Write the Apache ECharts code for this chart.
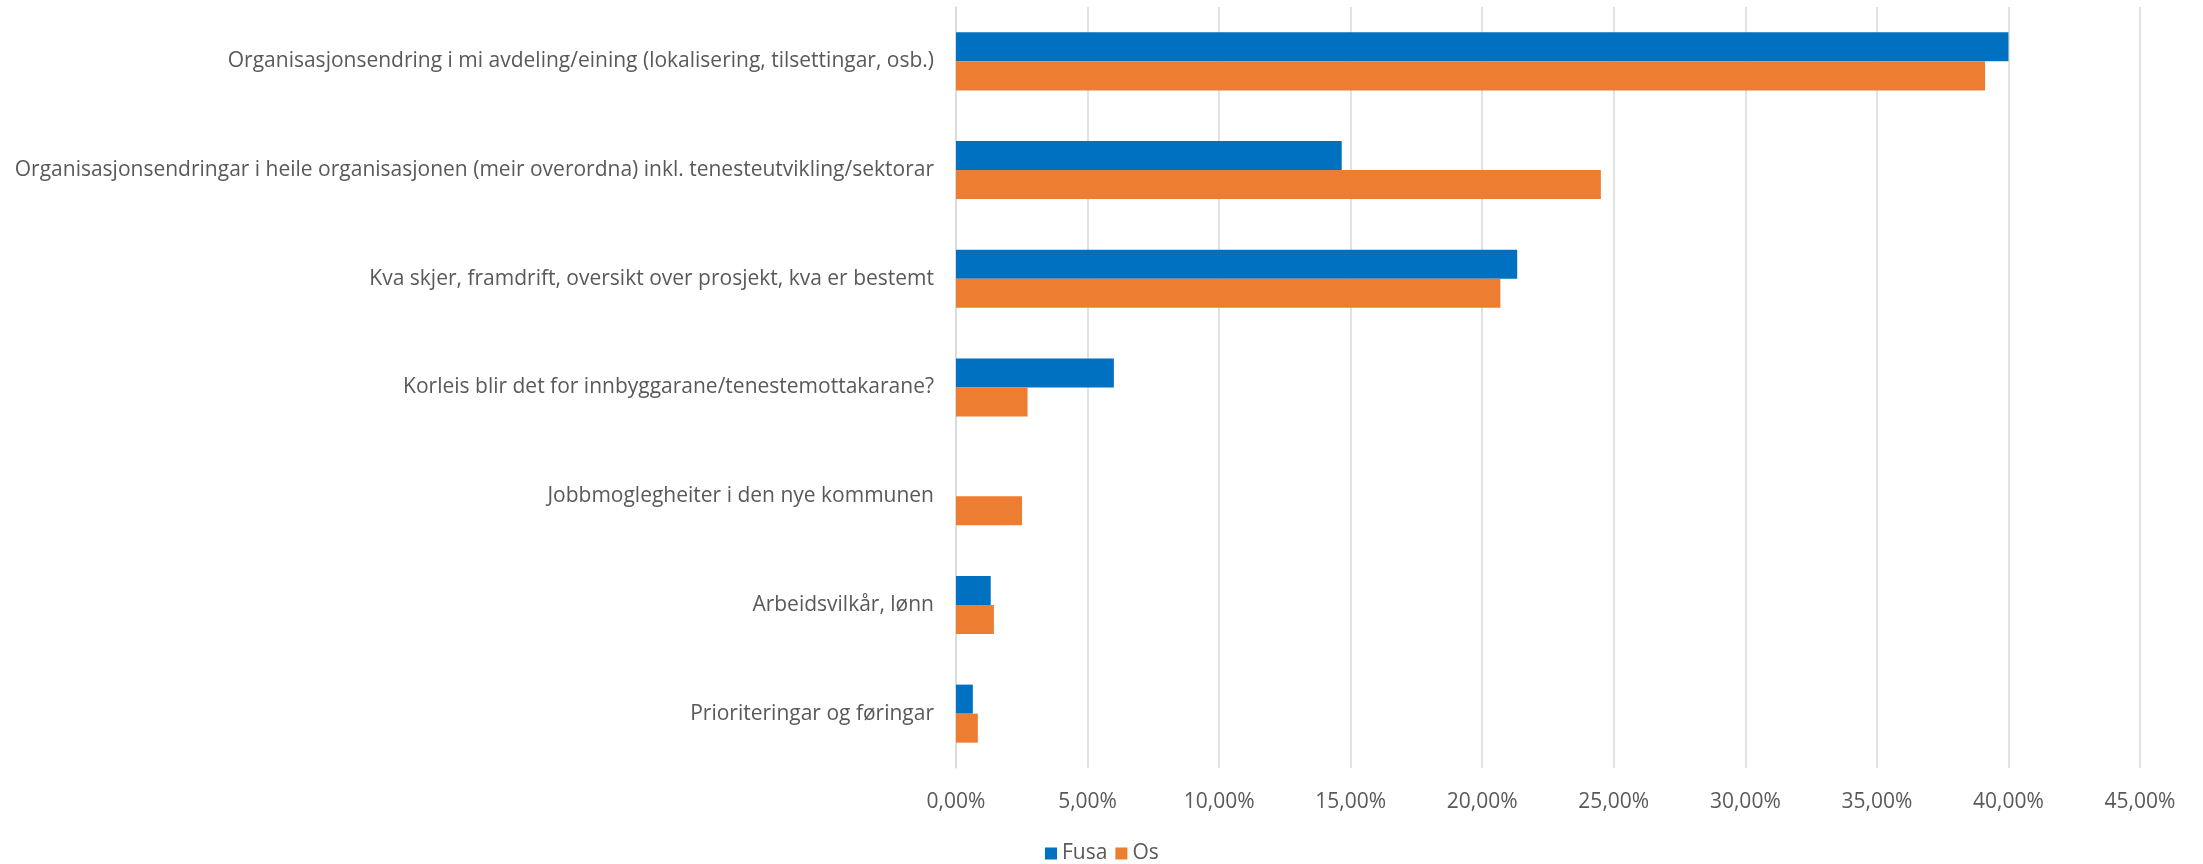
<!DOCTYPE html>
<html>
<head>
<meta charset="utf-8">
<script src="https://cdn.jsdelivr.net/npm/echarts@6/dist/echarts.min.js"></script>
<style>
  html, body { margin: 0; padding: 0; background: #fff; }
  #chart { width: 2203px; height: 864px; }
</style>
</head>
<body>
<div id="chart"></div>
<script>
  // categories, top to bottom
  var categories = [
    'Organisasjonsendring i mi avdeling/eining (lokalisering, tilsettingar, osb.)',
    'Organisasjonsendringar i heile organisasjonen (meir overordna) inkl. tenesteutvikling/sektorar',
    'Kva skjer, framdrift, oversikt over prosjekt, kva er bestemt',
    'Korleis blir det for innbyggarane/tenestemottakarane?',
    'Jobbmoglegheiter i den nye kommunen',
    'Arbeidsvilkår, lønn',
    'Prioriteringar og føringar'
  ];
  var fusa = [0.400, 0.1466, 0.2133, 0.060, 0, 0.0132, 0.0064];
  var os = [0.3911, 0.2451, 0.2069, 0.0272, 0.0251, 0.0144, 0.0083];

  var font = '"Open Sans", sans-serif';
  var textColor = '#595959';

  function pct(v) {
    return (v * 100).toFixed(2).replace('.', ',') + '%';
  }

  var chart = echarts.init(document.getElementById('chart'));
  chart.setOption({
    animation: false,
    textStyle: { fontFamily: font },
    grid: { left: 956, right: 63, top: 7, bottom: 96, containLabel: false },
    legend: {
      data: ['Fusa', 'Os'],
      left: 1040,
      top: 838,
      itemWidth: 12,
      itemHeight: 12,
      itemGap: 8,
      icon: 'rect',
      textStyle: { color: textColor, fontSize: 21, fontFamily: font }
    },
    xAxis: {
      type: 'value',
      min: 0,
      max: 0.45,
      interval: 0.05,
      axisLine: { show: false },
      axisTick: { show: false },
      splitLine: { lineStyle: { color: '#D9D9D9', width: 1.5 } },
      axisLabel: {
        color: textColor,
        fontSize: 21,
        fontFamily: font,
        margin: 24,
        formatter: pct
      }
    },
    yAxis: {
      type: 'category',
      data: categories,
      inverse: true,
      axisLine: { lineStyle: { color: '#D9D9D9', width: 1.5 } },
      axisTick: { show: false },
      axisLabel: {
        color: textColor,
        fontSize: 21,
        fontFamily: font,
        margin: 22
      }
    },
    series: [
      {
        name: 'Fusa',
        type: 'bar',
        data: fusa,
        barGap: '0%',
        barCategoryGap: '46.6%',
        itemStyle: { color: '#0070C0' }
      },
      {
        name: 'Os',
        type: 'bar',
        data: os,
        barGap: '0%',
        barCategoryGap: '46.6%',
        itemStyle: { color: '#ED7D31' }
      }
    ]
  });
</script>
</body>
</html>
